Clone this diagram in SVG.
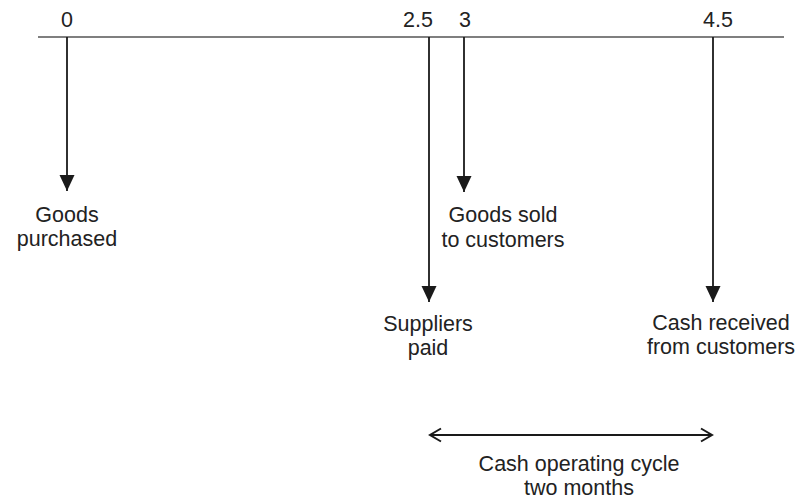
<svg xmlns="http://www.w3.org/2000/svg" width="800" height="501" viewBox="0 0 800 501">
<style>
text{font-family:"Liberation Sans",Arial,Helvetica,sans-serif;font-size:21.5px;fill:#222;text-anchor:middle}
.axis{stroke:#555;stroke-width:1.6;fill:none}
.v{stroke:#1a1a1a;stroke-width:1.8;fill:none}
.span{stroke:#1a1a1a;stroke-width:1.8;fill:none}
</style>
<defs>
<marker id="tri" viewBox="0 0 16 16" refX="16" refY="8" markerWidth="16" markerHeight="16" markerUnits="userSpaceOnUse" orient="auto">
<path d="M0,0.5 L16,8 L0,15.5 Z" fill="#1a1a1a"/>
</marker>
<marker id="chev" viewBox="0 0 14 16" refX="12" refY="8" markerWidth="14" markerHeight="16" markerUnits="userSpaceOnUse" orient="auto-start-reverse">
<path d="M1,1.5 L12,8 L1,14.5" fill="none" stroke="#1a1a1a" stroke-width="2"/>
</marker>
</defs>
<g id="timeline">
<line class="axis" x1="38" y1="37" x2="784" y2="37"/>
<text x="67" y="27">0</text>
<text x="418" y="27">2.5</text>
<text x="465" y="27">3</text>
<text x="718" y="27">4.5</text>
</g>
<g id="connectors">
<line class="v" x1="67" y1="37" x2="67" y2="191" marker-end="url(#tri)"/>
<line class="v" x1="464" y1="37" x2="464" y2="192" marker-end="url(#tri)"/>
<line class="v" x1="429" y1="37" x2="429" y2="302" marker-end="url(#tri)"/>
<line class="v" x1="713" y1="37" x2="713" y2="302" marker-end="url(#tri)"/>
<line class="span" x1="430" y1="435" x2="712" y2="435" marker-start="url(#chev)" marker-end="url(#chev)"/>
</g>
<g id="goods-purchased">
<text x="67" y="222">Goods</text>
<text x="67" y="246">purchased</text>
</g>
<g id="goods-sold">
<text x="503" y="222">Goods sold</text>
<text x="503" y="247">to customers</text>
</g>
<g id="suppliers-paid">
<text x="428" y="331">Suppliers</text>
<text x="428" y="355">paid</text>
</g>
<g id="cash-received">
<text x="721" y="330">Cash received</text>
<text x="721" y="354">from customers</text>
</g>
<g id="cycle">
<text x="579" y="471">Cash operating cycle</text>
<text x="579" y="495">two months</text>
</g>
</svg>
